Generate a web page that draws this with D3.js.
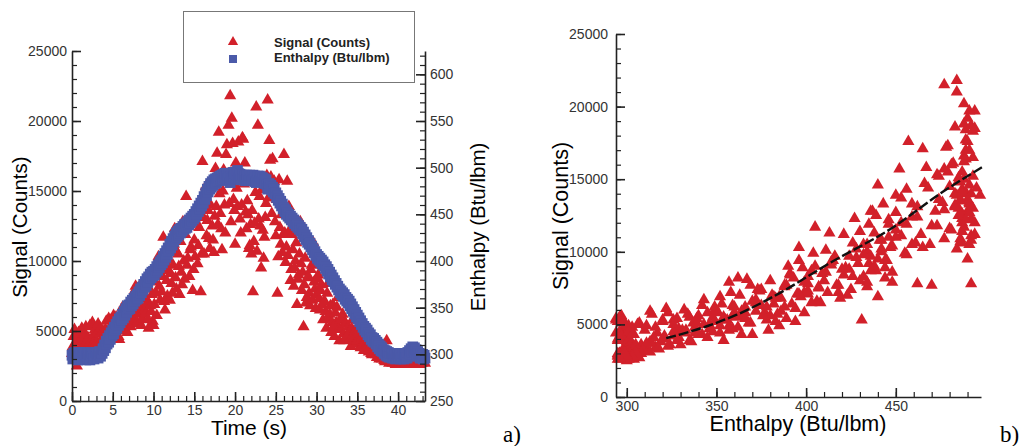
<!DOCTYPE html>
<html>
<head>
<meta charset="utf-8">
<script src="https://cdn.jsdelivr.net/npm/d3@7"></script>
<style>
	body { margin: 0; background: #fff; }
	svg { display: block; font-family: "Liberation Sans", Arial, sans-serif; }
	.axis path, .axis line { stroke: #222; stroke-width: 1.6; }
	.axis text { fill: #333; font-size: 14px; }
	.minor line { stroke-width: 1.2; }
</style>
</head>
<body>
<script>
const width = 1021;
const height = 446;

// time samples (s)
const time = [
	0,0.1,0.2,0.3,0.4,0.5,0.6,0.7,0.8,0.9, 1,1.1,1.2,1.3,1.4,1.5,1.6,1.7,1.8,1.9,
	2,2.1,2.2,2.3,2.4,2.5,2.6,2.7,2.8,2.9, 3,3.1,3.2,3.3,3.4,3.5,3.6,3.7,3.8,3.9,
	4,4.1,4.2,4.3,4.4,4.5,4.6,4.7,4.8,4.9, 5,5.1,5.2,5.3,5.4,5.5,5.6,5.7,5.8,5.9,
	6,6.1,6.2,6.3,6.4,6.5,6.6,6.7,6.8,6.9, 7,7.1,7.2,7.3,7.4,7.5,7.6,7.7,7.8,7.9,
	8,8.1,8.2,8.3,8.4,8.5,8.6,8.7,8.8,8.9, 9,9.1,9.2,9.3,9.4,9.5,9.6,9.7,9.8,9.9,
	10,10.1,10.2,10.3,10.4,10.5,10.6,10.7,10.8,10.9, 11,11.1,11.2,11.3,11.4,11.5,11.6,11.7,11.8,11.9,
	12,12.1,12.2,12.3,12.4,12.5,12.6,12.7,12.8,12.9, 13,13.1,13.2,13.3,13.4,13.5,13.6,13.7,13.8,13.9,
	14,14.1,14.2,14.3,14.4,14.5,14.6,14.7,14.8,14.9, 15,15.1,15.2,15.3,15.4,15.5,15.6,15.7,15.8,15.9,
	16,16.1,16.2,16.3,16.4,16.5,16.6,16.7,16.8,16.9, 17,17.1,17.2,17.3,17.4,17.5,17.6,17.7,17.8,17.9,
	18,18.1,18.2,18.3,18.4,18.5,18.6,18.7,18.8,18.9, 19,19.1,19.2,19.3,19.4,19.5,19.6,19.7,19.8,19.9,
	20,20.1,20.2,20.3,20.4,20.5,20.6,20.7,20.8,20.9, 21,21.1,21.2,21.3,21.4,21.5,21.6,21.7,21.8,21.9,
	22,22.1,22.2,22.3,22.4,22.5,22.6,22.7,22.8,22.9, 23,23.1,23.2,23.3,23.4,23.5,23.6,23.7,23.8,23.9,
	24,24.1,24.2,24.3,24.4,24.5,24.6,24.7,24.8,24.9, 25,25.1,25.2,25.3,25.4,25.5,25.6,25.7,25.8,25.9,
	26,26.1,26.2,26.3,26.4,26.5,26.6,26.7,26.8,26.9, 27,27.1,27.2,27.3,27.4,27.5,27.6,27.7,27.8,27.9,
	28,28.1,28.2,28.3,28.4,28.5,28.6,28.7,28.8,28.9, 29,29.1,29.2,29.3,29.4,29.5,29.6,29.7,29.8,29.9,
	30,30.1,30.2,30.3,30.4,30.5,30.6,30.7,30.8,30.9, 31,31.1,31.2,31.3,31.4,31.5,31.6,31.7,31.8,31.9,
	32,32.1,32.2,32.3,32.4,32.5,32.6,32.7,32.8,32.9, 33,33.1,33.2,33.3,33.4,33.5,33.6,33.7,33.8,33.9,
	34,34.1,34.2,34.3,34.4,34.5,34.6,34.7,34.8,34.9, 35,35.1,35.2,35.3,35.4,35.5,35.6,35.7,35.8,35.9,
	36,36.1,36.2,36.3,36.4,36.5,36.6,36.7,36.8,36.9, 37,37.1,37.2,37.3,37.4,37.5,37.6,37.7,37.8,37.9,
	38,38.1,38.2,38.3,38.4,38.5,38.6,38.7,38.8,38.9, 39,39.1,39.2,39.3,39.4,39.5,39.6,39.7,39.8,39.9,
	40,40.1,40.2,40.3,40.4,40.5,40.6,40.7,40.8,40.9, 41,41.1,41.2,41.3,41.4,41.5,41.6,41.7,41.8,41.9,
	42,42.1,42.2,42.3,42.4,42.5,42.6,42.7,42.8,42.9, 43,43.1,43.2,43.3
];

// signal (counts) at each time sample
const signal = [
	3400,3900,4600,5100,3800,4200,2500,4400,4900,3600, 4300,3500,5200,4600,3700,4000,4800,5300,4100,3900,
	4500,3800,5400,4200,3900,5600,4700,4000,5100,4400, 4200,4900,5500,3700,4800,5200,3600,4500,5000,4300,
	4600,5100,5700,4900,4400,5900,5200,4800,5800,5300, 5300,6100,4700,5000,6000,5400,5500,4600,4400,5700,
	5600,5100,6700,5400,5000,6300,6200,5800,4900,5500, 6400,6000,5300,6900,7200,5500,5800,7900,8200,6300,
	5600,6200,8100,7000,6600,5400,5900,7700,7400,6500, 6200,7300,7000,5800,5200,8000,6800,6400,7600,5700,
	5400,6900,8500,7700,6100,9000,10300,8200,7200,9400, 7800,8900,11700,7100,6500,9900,8600,7500,9300,10100,
	7200,9100,8400,7700,9700,11200,12300,8800,8000,10600, 10500,9600,7600,11400,9200,8300,12800,10000,8700,11900,
	14600,9700,10200,12500,8900,10800,11000,13300,7900,9400, 11500,10300,13700,12700,9800,11100,12400,14300,7800,10500,
	17100,13100,10500,14700,15300,11800,12900,13600,11600,10900, 14000,15500,12500,11500,10600,13200,16600,13900,17700,12600,
	19200,14800,13400,12300,10800,15000,16500,14000,12000,17600, 18300,16200,19700,14100,21800,12800,20200,18400,14400,13600,
	11200,17000,15200,13900,18500,16400,13000,12000,14000,18800, 18700,15500,17000,13500,12300,14300,13300,10900,11100,12600,
	10500,13600,7800,11400,12700,14900,21000,10700,19700,13000, 14600,12500,9500,15100,12200,10200,11700,13100,14100,16100,
	21500,14500,18600,17200,16000,13400,17300,15200,15700,12800, 11800,14400,7700,10300,15800,12400,11200,13300,10600,11900,
	17600,12000,9900,11000,15700,10400,13900,12200,8600,9400, 11900,10800,8200,9500,10000,11300,6900,8700,9000,10500,
	12800,9800,7900,9200,5300,8300,10200,7000,7400,8800, 8900,7700,6800,9400,9700,7200,11300,8500,8000,6600,
	7600,8700,9000,7300,6500,7900,8300,6900,5800,7100, 7100,6400,5200,7700,8400,5900,6200,6800,4900,5600,
	6900,5300,4600,6300,5600,6700,7400,5100,4300,5800, 5100,5900,6200,4800,4300,5600,5500,4600,4700,5300,
	4900,4400,3900,5200,5800,4700,4500,5000,4100,4300, 4300,4800,5100,3900,3800,4400,4600,4100,3600,4200,
	3900,3600,4500,4000,3500,3800,4200,3400,3300,3700, 3400,3800,4100,3300,3100,3600,3700,3000,3200,3500,
	3000,3300,3600,2900,2800,3200,4300,3100,3000,2700, 2900,3100,3300,2700,2800,3000,3100,2600,2700,2900,
	2900,3000,2700,2800,3100,2600,2800,3000,3000,2700, 2700,2900,2900,3100,2600,2800,2800,2700,3000,2900,
	2700,2800,3100,2600,2800,3000,2600,2900,2900,2700, 2800,2900,3000,2700
];

// enthalpy (Btu/lbm) at each time sample
const enthalpy = [
	299,295,301,297,302,296,300,294,299,302, 297,301,295,299,302,296,300,294,298,301,
	296,300,294,299,302,297,301,295,299,302, 297,301,296,300,303,298,302,301,306,304,
	310,307,314,311,317,313,320,316,323,320, 326,322,329,326,332,328,335,331,338,334,
	340,337,343,339,346,342,349,345,352,348, 353,349,356,352,358,354,360,357,362,359,
	364,360,367,363,370,366,372,369,375,372, 378,374,381,377,383,380,386,382,388,384,
	389,385,391,388,394,390,396,393,399,396, 401,398,405,401,408,404,411,407,414,411,
	418,414,421,417,424,421,427,424,430,426, 432,428,434,430,435,432,437,434,439,435,
	440,436,442,439,444,441,446,443,448,445, 450,447,453,450,456,453,459,456,462,459,
	465,462,469,466,473,470,477,474,480,477, 483,479,485,481,487,483,488,484,489,486,
	490,486,491,487,492,488,493,489,494,490, 493,488,494,489,484,490,488,489,495,490,
	494,489,493,497,494,489,493,487,492,488, 492,487,491,486,492,487,491,486,492,487,
	491,486,492,487,491,485,484,486,491,485, 491,486,490,485,489,484,488,483,487,482,
	477,480,483,478,481,476,479,474,477,472, 473,468,470,465,467,462,464,459,461,456,
	457,453,455,450,452,448,450,446,448,444, 446,442,444,440,442,438,440,436,438,434,
	436,432,434,429,431,426,428,423,425,420, 422,418,419,415,416,412,413,409,410,406,
	407,403,405,401,403,399,401,397,399,395, 396,392,394,389,391,386,388,383,385,380,
	382,378,379,375,376,372,373,369,370,366, 368,364,366,362,364,359,361,357,359,355,
	357,352,354,349,351,346,348,343,345,340, 342,338,339,335,336,332,333,329,330,326,
	328,324,326,321,323,319,321,316,318,314, 317,313,315,311,313,308,311,306,309,304,
	307,303,305,301,304,299,303,298,302,297, 301,297,300,296,301,296,300,295,301,296,
	300,296,301,295,300,296,301,295,300,296, 300,296,302,298,304,300,306,302,308,304,
	307,303,305,300,303,298,301,296,300,296, 300,295,299,296
];

// curve fit drawn on the signal vs enthalpy plot
const fitEnthalpy = [322, 345, 361, 385, 413, 449, 475, 498];
const fitSignal = [4050, 4890, 5650, 7140, 9210, 11730, 14030, 15820];

const legendLabels = ["Signal (Counts)", "Enthalpy (Btu/lbm)"];

const red = "#d2202a";
const blue = "#4b5aa9";

const points = time.map((t, i) => ({ t: t, s: signal[i], h: enthalpy[i] }));

let svg = d3.select("body").append("svg")
	.attr("width", width)
	.attr("height", height);

const tri = d3.symbol().type(d3.symbolTriangle).size(64);
const sq = d3.symbol().type(d3.symbolSquare).size(115);

// ---------- a) signal and enthalpy vs time ----------
const xT = d3.scaleLinear().domain([0, 43.3]).range([72, 425]);
const yS = d3.scaleLinear().domain([0, 25000]).range([401, 51]);
const yH = d3.scaleLinear().domain([250, 625]).range([401, 51]);

let ga = svg.append("g");

ga.append("g").selectAll("path")
		.data(points)
	.enter().append("path")
		.attr("d", tri)
		.attr("transform", d => `translate(${xT(d.t)},${yS(d.s)})`)
		.attr("fill", red);

ga.append("g").selectAll("path")
		.data(points)
	.enter().append("path")
		.attr("d", sq)
		.attr("transform", d => `translate(${xT(d.t)},${yH(d.h)})`)
		.attr("fill", blue);

// minor ticks first, then the major axes over them
ga.append("g").attr("class", "axis minor")
	.attr("transform", "translate(72,0)")
	.call(d3.axisLeft(yS).tickValues(d3.range(0, 25001, 1000)).tickSize(-5).tickFormat(""))
	.select(".domain").remove();
ga.append("g").attr("class", "axis minor")
	.attr("transform", "translate(425,0)")
	.call(d3.axisRight(yH).tickValues(d3.range(250, 621, 10)).tickSize(-5).tickFormat(""))
	.select(".domain").remove();
ga.append("g").attr("class", "axis minor")
	.attr("transform", "translate(0,401)")
	.call(d3.axisBottom(xT).tickValues(d3.range(0, 44, 1)).tickSize(-5).tickFormat(""))
	.select(".domain").remove();

ga.append("g").attr("class", "axis")
	.attr("transform", "translate(72,0)")
	.call(d3.axisLeft(yS).tickValues(d3.range(0, 25001, 5000)).tickSize(-9).tickSizeOuter(0).tickPadding(5).tickFormat(d3.format("d")));
ga.append("g").attr("class", "axis")
	.attr("transform", "translate(425,0)")
	.call(d3.axisRight(yH).tickValues(d3.range(250, 601, 50)).tickSize(-9).tickSizeOuter(0).tickPadding(5));
ga.append("g").attr("class", "axis")
	.attr("transform", "translate(0,401)")
	.call(d3.axisBottom(xT).tickValues(d3.range(0, 41, 5)).tickSize(-9).tickSizeOuter(0).tickPadding(4));

ga.append("text")
	.attr("transform", "translate(27,227) rotate(-90)")
	.attr("text-anchor", "middle")
	.attr("font-size", 20.5)
	.text("Signal (Counts)");
ga.append("text")
	.attr("transform", "translate(485,227) rotate(-90)")
	.attr("text-anchor", "middle")
	.attr("font-size", 20.5)
	.text("Enthalpy (Btu/lbm)");
ga.append("text")
	.attr("x", 249).attr("y", 435)
	.attr("text-anchor", "middle")
	.attr("font-size", 21)
	.text("Time (s)");

// legend
let legend = ga.append("g");
legend.append("rect")
	.attr("x", 183.5).attr("y", 11.5)
	.attr("width", 231).attr("height", 71)
	.attr("fill", "#fff")
	.attr("stroke", "#777")
	.attr("stroke-width", 1);
legend.append("path")
	.attr("d", d3.symbol().type(d3.symbolTriangle).size(46))
	.attr("transform", "translate(233,42)")
	.attr("fill", red);
legend.append("path")
	.attr("d", d3.symbol().type(d3.symbolSquare).size(64))
	.attr("transform", "translate(233,59)")
	.attr("fill", blue);
legend.selectAll("text.lab")
		.data(legendLabels)
	.enter().append("text")
		.attr("class", "lab")
		.attr("x", 274)
		.attr("y", (d, i) => 46.5 + i * 15.5)
		.attr("font-size", 13)
		.attr("font-weight", "bold")
		.attr("fill", "#222")
		.text(d => d);

svg.append("text")
	.attr("x", 503).attr("y", 442)
	.attr("font-family", "'Liberation Serif', 'Times New Roman', serif")
	.attr("font-size", 23)
	.text("a)");

// ---------- b) signal vs enthalpy ----------
const xH = d3.scaleLinear().domain([294, 497.5]).range([616, 981]);
const yS2 = d3.scaleLinear().domain([0, 25000]).range([397, 34]);

let gb = svg.append("g");

gb.append("g").selectAll("path")
		.data(points)
	.enter().append("path")
		.attr("d", tri)
		.attr("transform", d => `translate(${xH(d.h)},${yS2(d.s)})`)
		.attr("fill", red);

const fitLine = d3.line()
	.x(d => xH(d[0]))
	.y(d => yS2(d[1]))
	.curve(d3.curveMonotoneX);

gb.append("path")
	.datum(fitEnthalpy.map((h, i) => [h, fitSignal[i]]))
	.attr("d", fitLine)
	.attr("fill", "none")
	.attr("stroke", "#111")
	.attr("stroke-width", 2.4)
	.attr("stroke-dasharray", "10,3");

gb.append("g").attr("class", "axis minor")
	.attr("transform", "translate(616,0)")
	.call(d3.axisLeft(yS2).tickValues(d3.range(0, 25001, 1000)).tickSize(-5).tickFormat(""))
	.select(".domain").remove();
gb.append("g").attr("class", "axis minor")
	.attr("transform", "translate(0,397)")
	.call(d3.axisBottom(xH).tickValues(d3.range(300, 491, 10)).tickSize(-5).tickFormat(""))
	.select(".domain").remove();

gb.append("g").attr("class", "axis")
	.attr("transform", "translate(616,0)")
	.call(d3.axisLeft(yS2).tickValues(d3.range(0, 25001, 5000)).tickSize(-9).tickSizeOuter(0).tickPadding(8).tickFormat(d3.format("d")));
gb.append("g").attr("class", "axis")
	.attr("transform", "translate(0,397)")
	.call(d3.axisBottom(xH).tickValues(d3.range(300, 451, 50)).tickSize(-9).tickSizeOuter(0).tickPadding(4));

gb.append("text")
	.attr("transform", "translate(568,216) rotate(-90)")
	.attr("text-anchor", "middle")
	.attr("font-size", 21.5)
	.text("Signal (Counts)");
gb.append("text")
	.attr("x", 798).attr("y", 431)
	.attr("text-anchor", "middle")
	.attr("font-size", 21.5)
	.text("Enthalpy (Btu/lbm)");

svg.append("text")
	.attr("x", 1000).attr("y", 442)
	.attr("font-family", "'Liberation Serif', 'Times New Roman', serif")
	.attr("font-size", 23)
	.text("b)");
</script>
</body>
</html>
